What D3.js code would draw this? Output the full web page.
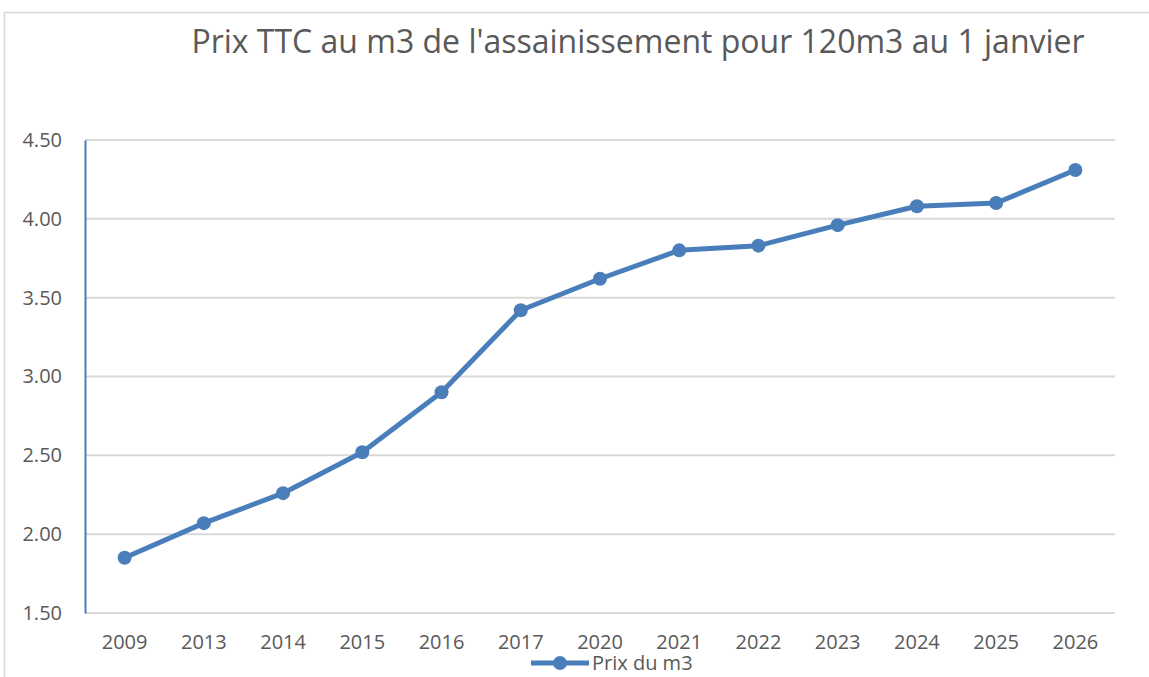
<!DOCTYPE html>
<html>
<head>
<meta charset="utf-8">
<script src="https://cdn.jsdelivr.net/npm/d3@7"></script>
<style>
  body { margin: 0; background: #fff; }
  text { font-family: 'Open Sans', 'Liberation Sans', sans-serif; fill: #595959; }
</style>
</head>
<body>
<script>
const width = 1149
const height = 677

const years = ['2009', '2013', '2014', '2015', '2016', '2017', '2020', '2021', '2022', '2023', '2024', '2025', '2026']
const prices = [1.85, 2.07, 2.26, 2.52, 2.90, 3.42, 3.62, 3.80, 3.83, 3.96, 4.08, 4.10, 4.31]
const yTicks = [1.5, 2.0, 2.5, 3.0, 3.5, 4.0, 4.5]

const margin = { top: 140, right: 34, bottom: 64, left: 85 }
const blue = '#4a7ebb'

const svg = d3.select('body').append('svg')
  .attr('width', width)
  .attr('height', height)

// chart frame
svg.append('rect')
  .attr('x', 4.5).attr('y', 12.5)
  .attr('width', width + 10).attr('height', height + 10)
  .attr('fill', 'none')
  .attr('stroke', '#d9d9d9')
  .attr('stroke-width', 1.5)

const x = d3.scaleBand()
  .domain(years)
  .range([margin.left, width - margin.right])

const y = d3.scaleLinear()
  .domain([1.5, 4.5])
  .range([height - margin.bottom, margin.top])

// gridlines
svg.append('g')
  .selectAll('line')
  .data(yTicks)
  .enter().append('line')
  .attr('x1', margin.left)
  .attr('x2', width - margin.right)
  .attr('y1', function (d) { return y(d) })
  .attr('y2', function (d) { return y(d) })
  .attr('stroke', '#d9d9d9')
  .attr('stroke-width', 2)

// y axis
const yAxis = svg.append('g')
  .attr('transform', 'translate(' + margin.left + ',0)')
  .call(d3.axisLeft(y).tickValues(yTicks).tickFormat(d3.format('.2f')).tickSize(0).tickPadding(23))
yAxis.select('.domain').attr('stroke', blue).attr('stroke-width', 2)
yAxis.selectAll('text').style('font-size', '20px').attr('fill', '#595959')

// x axis
const xAxis = svg.append('g')
  .attr('transform', 'translate(0,' + (height - margin.bottom) + ')')
  .call(d3.axisBottom(x).tickSize(0).tickPadding(22))
xAxis.select('.domain').remove()
xAxis.selectAll('text').style('font-size', '20px').attr('fill', '#595959')

const cx = function (d, i) { return x(years[i]) + x.bandwidth() / 2 }

const line = d3.line()
  .x(function (d, i) { return cx(d, i) })
  .y(function (d) { return y(d) })

svg.append('path')
  .datum(prices)
  .attr('d', line)
  .attr('fill', 'none')
  .attr('stroke', blue)
  .attr('stroke-width', 5)
  .attr('stroke-linejoin', 'round')

svg.append('g')
  .selectAll('circle')
  .data(prices)
  .enter().append('circle')
  .attr('cx', cx)
  .attr('cy', function (d) { return y(d) })
  .attr('r', 7)
  .attr('fill', blue)

// title
svg.append('text')
  .attr('x', 638)
  .attr('y', 53)
  .attr('text-anchor', 'middle')
  .style('font-size', '32px')
  .text("Prix TTC au m3 de l'assainissement pour 120m3 au 1 janvier")

// legend
const legend = svg.append('g').attr('transform', 'translate(531,663)')
legend.append('line')
  .attr('x1', 0).attr('x2', 58)
  .attr('stroke', blue).attr('stroke-width', 5)
legend.append('circle')
  .attr('cx', 29).attr('r', 7).attr('fill', blue)
legend.append('text')
  .attr('x', 61).attr('y', 7)
  .style('font-size', '20px')
  .text('Prix du m3')
</script>
</body>
</html>
